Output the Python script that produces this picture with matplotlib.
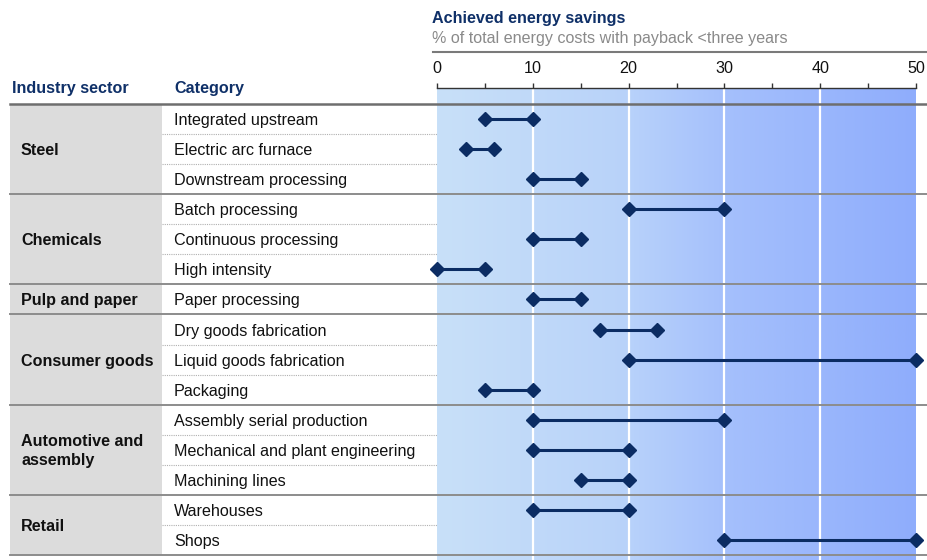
import numpy as np
import matplotlib
matplotlib.use("Agg")
import matplotlib.pyplot as plt
from matplotlib import transforms
from matplotlib.colors import LinearSegmentedColormap

plt.rcParams['font.family'] = ['Liberation Sans', 'DejaVu Sans']

# ---- data ----
sectors = ["Steel", "Chemicals", "Pulp and paper", "Consumer goods",
           "Automotive and\nassembly", "Retail"]
sector_sizes = [3, 3, 1, 3, 3, 2]
categories = [
    "Integrated upstream", "Electric arc furnace", "Downstream processing",
    "Batch processing", "Continuous processing", "High intensity",
    "Paper processing",
    "Dry goods fabrication", "Liquid goods fabrication", "Packaging",
    "Assembly serial production", "Mechanical and plant engineering", "Machining lines",
    "Warehouses", "Shops",
]
savings_low = [5, 3, 10, 20, 10, 0, 10, 17, 20, 5, 10, 10, 15, 10, 30]
savings_high = [10, 6, 15, 30, 15, 5, 15, 23, 50, 10, 30, 20, 20, 20, 50]
x_ticks = [0, 10, 20, 30, 40, 50]

# ---- layout (pixels) ----
W, H = 927, 560
fig = plt.figure(figsize=(W / 100, H / 100), dpi=100)

def fx(px):
    return px / W

def fy(py):
    return 1 - py / H

x0, x1 = 437, 916
y_top, y_bot = 104, 555
y_axis = 88
FS = 11.6

navy = "#0b2c63"
title_navy = "#0f3068"
n = len(categories)

# gradient background
bg = fig.add_axes([fx(x0), 0, fx(x1) - fx(x0), fy(y_axis)])
cmap = LinearSegmentedColormap.from_list(
    "savings_bg",
    [(0.0, "#c8e0f8"), (0.4, "#b8d2fa"), (0.6, "#a5c0fc"), (1.0, "#8fadfc")])
bg.imshow(np.linspace(0, 1, 256)[None, :], cmap=cmap, aspect="auto",
          extent=(0, 50, 0, 1))
bg.set_xlim(0, 50)
bg.set_ylim(0, 1)
for t in x_ticks[1:-1]:
    bg.axvline(t, color="white", lw=1.6)
bg.axis("off")

# main chart axes
ax = fig.add_axes([fx(x0), fy(y_bot), fx(x1) - fx(x0), fy(y_top) - fy(y_bot)])
ax.set_xlim(0, 50)
ax.set_ylim(n, 0)
ax.patch.set_alpha(0)
ax.axis("off")

ypos = np.arange(n) + 0.5
for y, lo, hi in zip(ypos, savings_low, savings_high):
    ax.plot([lo, hi], [y, y], color=navy, lw=2.2, solid_capstyle="butt",
            clip_on=False, zorder=3)
    ax.plot([lo, hi], [y, y], ls="none", marker="D", ms=7, color=navy,
            clip_on=False, zorder=4)

# table on the left, sharing the row scale
tr = transforms.blended_transform_factory(fig.transFigure, ax.transData)

# sector column background
ax.fill_between([fx(10), fx(162)], 0, n, color="#dcdcdc", transform=tr,
                clip_on=False, zorder=0, lw=0)

# header line
ax.plot([fx(10), fx(W)], [0, 0], color="#6e6e6e", lw=1.8, transform=tr,
        clip_on=False, zorder=5)

dy = 0.05  # small downward nudge so text sits centred in its row
start = 0
for name, size in zip(sectors, sector_sizes):
    end = start + size
    ax.text(fx(21), (start + end) / 2 + dy, name, transform=tr, fontsize=FS,
            fontweight="bold", va="center", ha="left", color="#111111",
            linespacing=1.3)
    for k in range(start + 1, end):
        ax.plot([fx(162), fx(x0)], [k, k], color="#b0b0b0", lw=0.8,
                ls=(0, (1, 1)), transform=tr, clip_on=False, zorder=1)
    ax.plot([fx(10), fx(W)], [end, end], color="#8c8c8c", lw=1.4,
            transform=tr, clip_on=False, zorder=5)
    start = end

for y, cat in zip(ypos, categories):
    ax.text(fx(174), y + dy, cat, transform=tr, fontsize=FS, va="center",
            ha="left", color="#111111")

# column headers
fig.text(fx(12), fy(89), "Industry sector", fontsize=FS, fontweight="bold",
         color=title_navy, va="center", ha="left")
fig.text(fx(174), fy(89), "Category", fontsize=FS, fontweight="bold",
         color=title_navy, va="center", ha="left")

# value scale on top
sc = fig.add_axes([fx(x0), fy(y_axis) - 0.001, fx(x1) - fx(x0), 0.001])
sc.set_xlim(0, 50)
sc.patch.set_alpha(0)
for s in ["left", "right", "bottom"]:
    sc.spines[s].set_visible(False)
sc.spines["top"].set_color("#333333")
sc.spines["top"].set_linewidth(1.0)
sc.set_yticks([])
sc.xaxis.tick_top()
sc.set_xticks(x_ticks)
sc.set_xticks(np.arange(5, 50, 10), minor=True)
sc.tick_params(axis="x", which="both", direction="out", length=3.5, width=1.0,
               color="#333333", labelsize=FS, pad=5, labelcolor="#111111")

# title block
fig.lines.append(plt.Line2D([fx(433), fx(W)], [fy(52), fy(52)],
                            transform=fig.transFigure, color="#7a7a7a", lw=1.5))
fig.text(fx(432), fy(19), "Achieved energy savings", fontsize=FS,
         fontweight="bold", color=title_navy, va="center", ha="left")
fig.text(fx(432), fy(38), "% of total energy costs with payback <three years",
         fontsize=FS, color="#8a8a8a", va="center", ha="left")

fig.savefig("out.png", dpi=100)
